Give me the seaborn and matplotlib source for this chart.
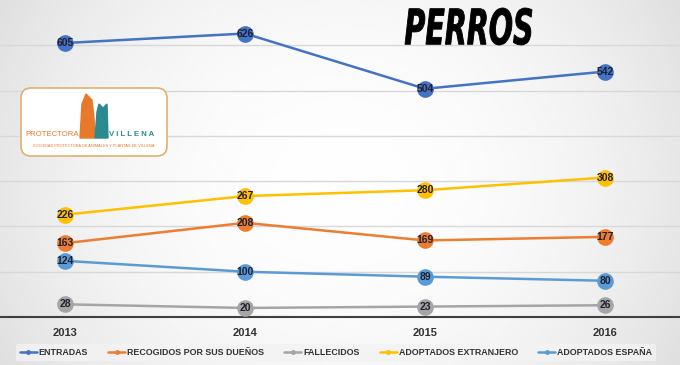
import numpy as np
import pandas as pd
import seaborn as sns
import matplotlib.pyplot as plt
from matplotlib.patches import FancyBboxPatch, Polygon, PathPatch
from matplotlib.textpath import TextPath
from matplotlib.font_manager import FontProperties
from matplotlib.transforms import Affine2D

years = [2013, 2014, 2015, 2016]
entradas = [605, 626, 504, 542]
recogidos = [163, 208, 169, 177]
fallecidos = [28, 20, 23, 26]
adopt_extranjero = [226, 267, 280, 308]
adopt_espana = [124, 100, 89, 80]

series_names = ['ENTRADAS', 'RECOGIDOS POR SUS DUEÑOS', 'FALLECIDOS',
                'ADOPTADOS EXTRANJERO', 'ADOPTADOS ESPAÑA']
colors = ['#4472C4', '#ED7D31', '#A5A5A5', '#FFC000', '#5B9BD5']

df = pd.DataFrame({
    'year': years * 5,
    'value': entradas + recogidos + fallecidos + adopt_extranjero + adopt_espana,
    'serie': [n for n in series_names for _ in years],
})

sns.set_style('white')
plt.rcParams['font.family'] = ['Liberation Sans', 'DejaVu Sans']

fig = plt.figure(figsize=(6.8, 3.65), dpi=100)

# background gradient (lighter in the middle)
bg = fig.add_axes([0, 0, 1, 1], zorder=-5)
xx = np.linspace(-1, 1, 300)
yy = np.linspace(-1, 1, 160)
X, Y = np.meshgrid(xx, yy)
grad = 0.995 - 0.09 * (np.abs(X) ** 2.2) - 0.03 * (Y ** 2)
bg.imshow(grad, cmap='gray', vmin=0, vmax=1, aspect='auto', extent=[0, 1, 0, 1])
bg.axis('off')

ax = fig.add_axes([0, 1 - 317 / 365, 1, 317 / 365])
ax.patch.set_alpha(0)

sns.lineplot(data=df, x='year', y='value', hue='serie', palette=colors,
             marker='o', markersize=12, markeredgewidth=0, linewidth=1.8,
             ax=ax, legend=False, zorder=3)

for name in series_names:
    vals = df.loc[df['serie'] == name, 'value'].tolist()
    for x, v in zip(years, vals):
        ax.text(x, v, str(v), ha='center', va='center', fontsize=7.5,
                fontweight='bold', color='#202030', zorder=5)

ax.set_xlim(2013 - 65 / 180, 2016 + 75 / 180)
ax.set_ylim(0, 700)
ax.set_yticks(range(100, 700, 100))
ax.yaxis.grid(True, color='#d8d8d8', linewidth=1)
ax.set_yticklabels([])
ax.tick_params(axis='y', length=0)
ax.set_xticks(years)
ax.set_xticklabels([str(y) for y in years], fontsize=8, fontweight='bold',
                   color='#333333')
ax.tick_params(axis='x', length=0, pad=8)
for s in ['top', 'right', 'left']:
    ax.spines[s].set_visible(False)
ax.spines['bottom'].set_color('#404040')
ax.spines['bottom'].set_linewidth(1.5)
ax.set_xlabel('')
ax.set_ylabel('')

handles = [plt.Line2D([], [], color=c, marker='o', markersize=2.5, linewidth=1.8)
           for c in colors]
leg = ax.legend(handles, series_names, ncol=5, loc='center',
                bbox_to_anchor=(0.494, -0.112), fontsize=6.4, frameon=True,
                handlelength=1.9, handletextpad=0.2, columnspacing=2.3,
                borderpad=0.45)
leg.get_frame().set_facecolor('#f3f3f3')
leg.get_frame().set_edgecolor('none')
for t in leg.get_texts():
    t.set_color('#333333')
    t.set_fontweight('bold')

# overlay in pixel coordinates for title and logo
ov = fig.add_axes([0, 0, 1, 1], zorder=10)
ov.set_xlim(0, 680)
ov.set_ylim(365, 0)
ov.axis('off')

# title, squeezed into the box it takes in the reference
tp = TextPath((0, 0), 'PERROS', size=40,
              prop=FontProperties(family='DejaVu Sans', weight='bold', style='italic'))
ext = tp.get_extents()
sx = 127 / ext.width
sy = 37 / ext.height
tr = Affine2D().translate(-ext.x0, -ext.y0).scale(sx, -sy).translate(405, 45)
ov.add_patch(PathPatch(tr.transform_path(tp), facecolor='black', edgecolor='black',
                       linewidth=0.6))

# logo
ov.add_patch(FancyBboxPatch((21, 88), 146, 68, boxstyle='round,pad=0,rounding_size=10',
                            facecolor='white', edgecolor='#e0b070', linewidth=1.2))
ov.add_patch(Polygon([[80, 138], [82, 104], [86, 94], [92, 100], [94, 118], [95, 138]],
                     closed=True, color='#e8782a'))
ov.add_patch(Polygon([[95, 138], [97, 112], [99, 104], [103, 108], [107, 104], [108, 138]],
                     closed=True, color='#2a8a8f'))
ov.text(79, 136, 'PROTECTORA', ha='right', va='baseline', fontsize=5.6,
        color='#e8782a')
ov.text(109, 136, 'V I L L E N A', ha='left', va='baseline', fontsize=5.6,
        color='#2a8a8f', fontweight='bold')
ov.text(94, 146, 'SOCIEDAD PROTECTORA DE ANIMALES Y PLANTAS DE VILLENA',
        ha='center', va='center', fontsize=2.8, color='#e8782a')

fig.savefig('out.png', dpi=100)
